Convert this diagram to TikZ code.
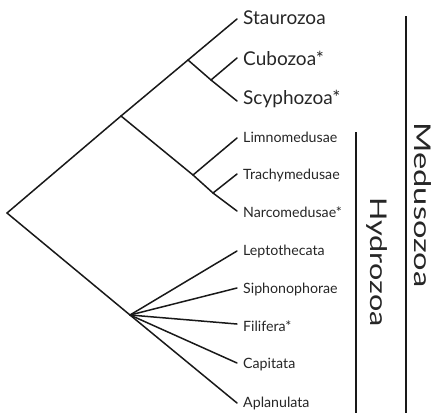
\documentclass[tikz,border=0pt]{standalone}
\usepackage{fontspec}
\setmainfont{Lato}
\begin{document}
\begin{tikzpicture}[x=1pt,y=-1pt,
  branch/.style={line width=1.5pt,line cap=round,color=black!90},
  big/.style={anchor=west,inner sep=0pt,text=black!85,font=\fontsize{19}{22}\selectfont},
  small/.style={anchor=west,inner sep=0pt,text=black!85,font=\fontsize{14.2}{16}\selectfont},
  bar/.style={line width=1.5pt,color=black!90},
  clade/.style={inner sep=0pt,rotate=-90,text=black!85,font=\fontsize{23}{26}\selectfont}]
\useasboundingbox (0,0) rectangle (438,413);
% internal nodes
\coordinate (root) at (7,213);
\coordinate (med) at (121,116);
\coordinate (acr) at (188,60);
\coordinate (cs) at (211,80);
\coordinate (hyd) at (193,175);
\coordinate (tn) at (213,193);
\coordinate (poly) at (130,315);
% tips
\coordinate (t1) at (237,19);
\coordinate (t2) at (237,58);
\coordinate (t3) at (237,101);
\coordinate (t4) at (237,138);
\coordinate (t5) at (237,174);
\coordinate (t6) at (237,211);
\coordinate (t7) at (237,251);
\coordinate (t8) at (237,288);
\coordinate (t9) at (237,324);
\coordinate (t10) at (237,363);
\coordinate (t11) at (237,403);
% labels
\node[big] (l1) at (243,18) {Staurozoa};
\node[big] (l2) at (243,58) {Cubozoa*};
\node[big] (l3) at (243,99) {Scyphozoa*};
\node[small] (l4) at (243,137) {Limnomedusae};
\node[small] (l5) at (243,175) {Trachymedusae};
\node[small] (l6) at (243,212) {Narcomedusae*};
\node[small] (l7) at (243,251) {Leptothecata};
\node[small] (l8) at (243,289) {Siphonophorae};
\node[small] (l9) at (243,326) {Filifera*};
\node[small] (l10) at (243,365) {Capitata};
\node[small] (l11) at (243,403) {Aplanulata};
% tree
\draw[branch] (root) -- (med) -- (acr) -- (t1);
\draw[branch] (acr) -- (cs) -- (t3);
\draw[branch] (cs) -- (t2);
\draw[branch] (med) -- (hyd) -- (tn) -- (t6);
\draw[branch] (hyd) -- (t4);
\draw[branch] (tn) -- (t5);
\draw[branch] (root) -- (poly) -- (t11);
\draw[branch] (poly) -- (t7);
\draw[branch] (poly) -- (t8);
\draw[branch] (poly) -- (t9);
\draw[branch] (poly) -- (t10);
% clade bars
\coordinate (hb1) at (356,132);
\coordinate (hb2) at (356,413);
\coordinate (mb1) at (406,16);
\coordinate (mb2) at (406,413);
\draw[bar] (hb1) -- (hb2);
\draw[bar] (mb1) -- (mb2);
\node[clade] (hz) at (377,262) {\resizebox{129pt}{\height}{Hydrozoa}};
\node[clade] (mz) at (423,205) {\resizebox{165pt}{\height}{Medusozoa}};
\end{tikzpicture}
\end{document}
